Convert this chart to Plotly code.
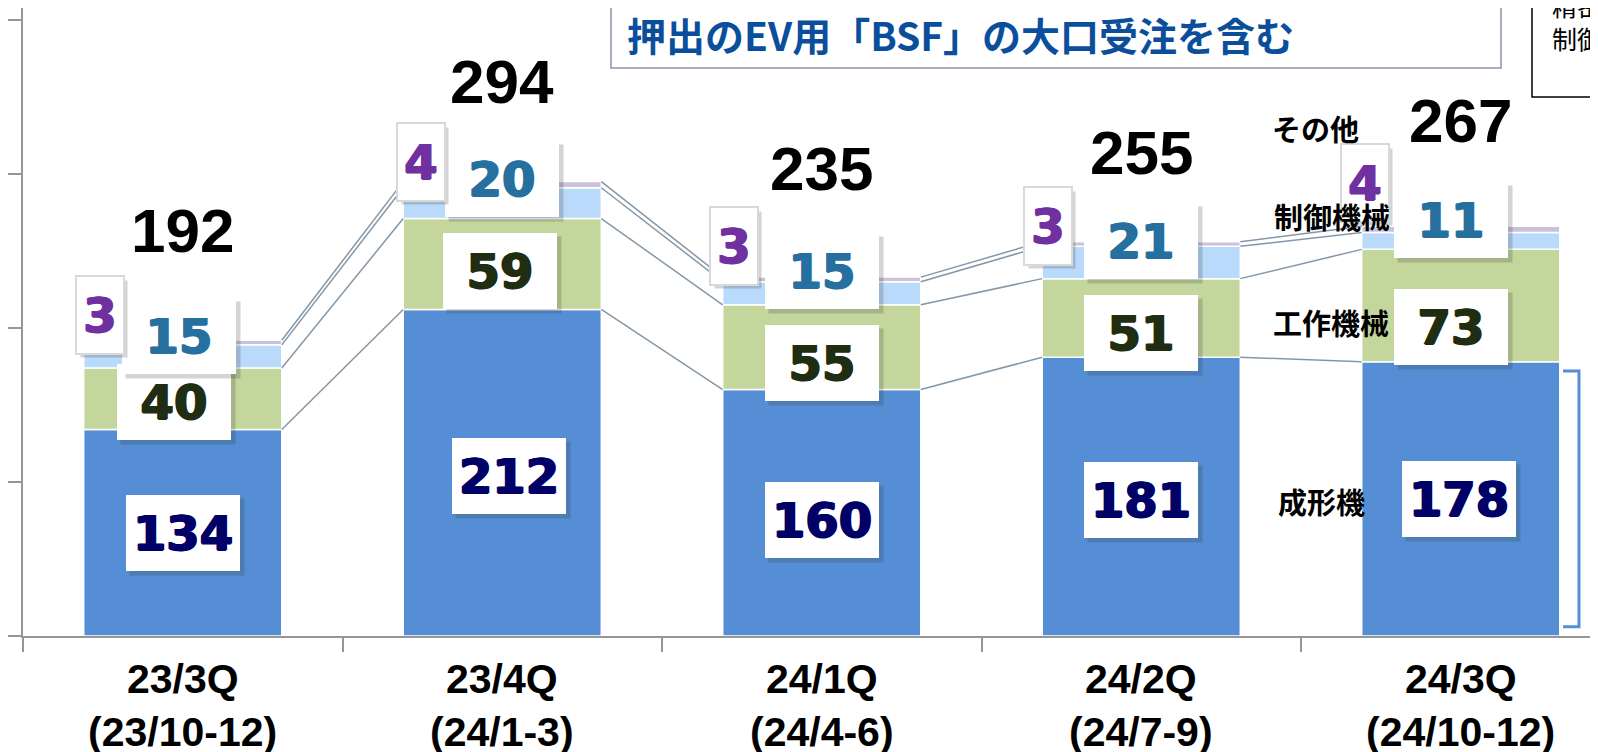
import plotly.graph_objects as go

quarters = ["23/3Q", "23/4Q", "24/1Q", "24/2Q", "24/3Q"]
periods = ["(23/10-12)", "(24/1-3)", "(24/4-6)", "(24/7-9)", "(24/10-12)"]

molding = [134, 212, 160, 181, 178]       # 成形機
machine_tools = [40, 59, 55, 51, 73]      # 工作機械
control = [15, 20, 15, 21, 11]           # 制御機械
others = [3, 4, 3, 3, 4]                 # その他
totals = [192, 294, 235, 255, 267]

series = [
    ("成形機", molding, "#558ED5", "#000066"),
    ("工作機械", machine_tools, "#C3D69B", "#1F2D13"),
    ("制御機械", control, "#B9DAFB", "#25709E"),
    ("その他", others, "#CCC1DA", "#7030A0"),
]

# label nudges in pixels (layout only)
x_shift = {
    "成形機": [0, 7, 0, 0, -2],
    "工作機械": [-9, -2, 0, 0, -10],
    "制御機械": [-4, 0, 0, 0, -10],
    "その他": [-83, -81, -88, -93, -96],
}
y_shift = {
    "成形機": [0, -3, -7, -3, 0],
    "工作機械": [-3, -7, -16, -15, -21],
    "制御機械": [20, 24, 22, 21, 21],
}
other_yshift = [25, 20, 31, 16, 43]
total_yshift = [110, 100, 109, 89, 106]

x = list(range(len(quarters)))
bar_w = 0.62

# page body has an 8px margin; plot area in figure pixels
OFF = 8
FW, FH = 1598 - OFF, 752 - OFF
L, B, W = 23 - OFF, 636 - OFF, 1575

fig = go.Figure()

base = [0] * len(x)
tops = []
for name, vals, color, _ in series:
    fig.add_trace(go.Bar(
        x=x, y=vals, base=base, name=name, width=bar_w,
        marker=dict(color=color, line=dict(color="white", width=1.5)),
        showlegend=False,
    ))
    base = [b + v for b, v in zip(base, vals)]
    tops.append(base)

# connector lines between bars
for lvl in tops:
    for i in range(len(x) - 1):
        fig.add_trace(go.Scatter(
            x=[i + bar_w / 2, i + 1 - bar_w / 2], y=[lvl[i], lvl[i + 1]],
            mode="lines", line=dict(color="#8497A8", width=1.5),
            showlegend=False, hoverinfo="skip",
        ))

num_font = "DejaVu Sans"


def heavy(color):
    # fake a heavier weight by smearing the glyphs slightly
    return f"1px 0 0 {color}, -1px 0 0 {color}, 0 1px 0 {color}"


def boxed(xv, yv, text, color, xs, ys, w, h, border=None):
    # drop shadow then white box
    fig.add_annotation(x=xv, y=yv, text=text, showarrow=False,
                       xanchor="center", yanchor="middle",
                       xshift=xs + 4, yshift=ys - 4, width=w, height=h,
                       bgcolor="rgba(60,60,60,0.22)",
                       font=dict(family=num_font, size=48, color="rgba(0,0,0,0)"))
    fig.add_annotation(x=xv, y=yv, text=f"<b>{text}</b>", showarrow=False,
                       xanchor="center", yanchor="middle",
                       xshift=xs, yshift=ys, width=w, height=h,
                       bgcolor="white",
                       bordercolor=border or "rgba(0,0,0,0)", borderwidth=2 if border else 0,
                       font=dict(family=num_font, size=48, color=color, shadow=heavy(color)))


lower = [0] * len(x)
for name, vals, color, txt_color in series:
    for i, v in enumerate(vals):
        if name == "その他":
            boxed(i, lower[i] + v, str(v), txt_color, x_shift[name][i],
                  other_yshift[i], 44, 74, border="#D9D9D9")
        else:
            boxed(i, lower[i] + v / 2, str(v), txt_color, x_shift[name][i],
                  y_shift[name][i], 112, 74)
    lower = [b + v for b, v in zip(lower, vals)]

for i, t in enumerate(totals):
    fig.add_annotation(x=i, y=tops[-1][i], text=f"<b>{t}</b>", showarrow=False,
                       xanchor="center", yanchor="middle", yshift=total_yshift[i],
                       font=dict(family="Liberation Sans", size=62, color="black"))


def px(xp):
    return (xp - OFF - L) / W


def py(yp):
    return (B - (yp - OFF)) / B


# category labels
for i in x:
    for txt, shift in ((quarters[i], -43), (periods[i], -96)):
        fig.add_annotation(x=i, y=0, yref="paper", text=f"<b>{txt}</b>",
                           showarrow=False, xanchor="center", yanchor="middle", yshift=shift,
                           font=dict(family="Liberation Sans", size=41, color="black"))

# series names next to last bar
name_pos = [("その他", 1315, 128), ("制御機械", 1332, 216), ("工作機械", 1331, 322), ("成形機", 1321, 501)]
for txt, xp, yp in name_pos:
    fig.add_annotation(x=px(xp), xref="paper", y=py(yp), yref="paper",
                       xanchor="center", yanchor="middle",
                       text=f"<b>{txt}</b>", showarrow=False,
                       font=dict(family="Noto Sans CJK JP", size=29, color="black"))

# title callout box
fig.add_shape(type="rect", xref="paper", yref="paper",
              x0=px(611), x1=px(1501), y0=py(68), y1=py(-10),
              line=dict(color="#A6B0BA", width=2), fillcolor="white", layer="above")
fig.add_annotation(x=px(625), xref="paper", y=py(34), yref="paper",
                   xanchor="left", yanchor="middle",
                   text="<b>押出のEV用「BSF」の大口受注を含む</b>", showarrow=False,
                   font=dict(family="Noto Sans CJK JP", size=39, color="#0B4F9C"))

# top-right note box (cut off)
fig.add_shape(type="rect", xref="paper", yref="paper",
              x0=px(1532), x1=px(1700), y0=py(97), y1=py(-10),
              line=dict(color="black", width=1.5), fillcolor="white", layer="above")
fig.add_annotation(x=px(1550), xref="paper", y=py(22), yref="paper",
                   xanchor="left", yanchor="middle", align="left",
                   text="精密機械<br>制御機械", showarrow=False,
                   font=dict(family="Noto Sans CJK JP", size=25, color="black"))

# bracket beside 成形機
fig.add_shape(type="path", xref="x", yref="y",
              path="M 4.32,172 L 4.37,172 L 4.37,6 L 4.32,6",
              line=dict(color="#558ED5", width=3))

fig.update_layout(
    width=FW, height=FH,
    margin=dict(l=L, r=FW - L - W, t=0, b=FH - B, autoexpand=False),
    plot_bgcolor="white", paper_bgcolor="white",
    barmode="overlay",
    xaxis=dict(range=[-0.5, -0.5 + W / 319.5], tickvals=[-0.5, 0.5, 1.5, 2.5, 3.5],
               ticktext=[""] * 5, ticks="outside", ticklen=14, tickcolor="#969696",
               tickwidth=2, showline=True, linecolor="#969696", linewidth=2,
               showgrid=False, zeroline=False, fixedrange=True, automargin=False),
    yaxis=dict(range=[0, 407.7], tickvals=[0, 100, 200, 300, 400],
               showticklabels=False, ticks="outside", ticklen=13, tickcolor="#969696",
               tickwidth=2, showline=True, linecolor="#969696", linewidth=2,
               showgrid=False, zeroline=False, fixedrange=True, automargin=False),
)

fig.write_html("out.html")
